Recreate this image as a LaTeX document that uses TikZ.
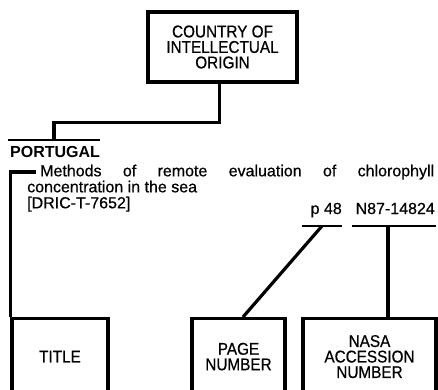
\documentclass[tikz,border=0pt]{standalone}
\usepackage{fontspec}
\setmainfont{Liberation Sans}
\newfontfamily\scanfont[FakeBold=0.6]{Liberation Sans}
\newfontfamily\boxfont[FakeStretch=0.9, FakeBold=0.6]{Liberation Sans}

\tikzset{
	tag/.style={draw, line width=3.2pt, align=center, inner sep=0pt, font=\boxfont\fontsize{17}{15.5}\selectfont},
	slot/.style={tag, anchor=north, minimum height=76pt},
	link/.style={line width=3.2pt},
	rule/.style={line width=2.2pt},
	entry/.style={inner sep=0pt, font=\scanfont\fontsize{16}{16}\selectfont},
}

\begin{document}
\begin{tikzpicture}[x=1pt, y=-1pt]
		%%%%% START %%%%%
		\clip (0,0) rectangle (438,389);
		
		\node[tag, minimum width=149pt, minimum height=70pt] (origin) at (222.5,47) {COUNTRY OF\\INTELLECTUAL\\ORIGIN};
		
		\node[entry, anchor=base west, font=\rmfamily\fontsize{16}{16}\selectfont\bfseries] (country) at (10,157) {PORTUGAL};
		\coordinate (country-l) at (8,140);
		\coordinate (country-r) at (100,140);
		\coordinate (country-hook) at (54,140);
		\draw[rule] (country-l) -- (country-r);
		\draw[link] ([xshift=-3pt]origin.south) -- ++(0,39) -| (country-hook);
		
		\node[entry, anchor=north west, text width=407pt, align=justify] (abstract) at (27,164.5)
			{\tolerance=10000\hbadness=10000\hspace*{13pt}Methods of remote evaluation of chlorophyll\linebreak concentration in the sea\newline{}[DRIC-T-7652]};
		\coordinate (lead) at (36,172);
		
		\node[entry, anchor=base east] (page) at (342,214) {p 48};
		\node[entry, anchor=base east] (accession) at (435,214) {N87-14824};
		\coordinate (page-l) at (302,226);
		\coordinate (page-r) at (342,226);
		\coordinate (page-hook) at (322,226);
		\coordinate (acc-l) at (352,226);
		\coordinate (acc-r) at (436,226);
		\coordinate (acc-hook) at (388,226);
		\draw[rule] (page-l) -- (page-r);
		\draw[rule] (acc-l) -- (acc-r);
		
		\node[slot, minimum width=96pt] (titlebox) at (60,317) {TITLE};
		\node[slot, minimum width=93pt] (pagebox) at (238.5,317) {PAGE\\NUMBER};
		\node[slot, minimum width=133pt] (nasabox) at (369.5,317) {NASA\\ACCESSION\\NUMBER};
		
		\draw[link] (lead) -| (titlebox.north west);
		\draw[link] (page-hook) -- ([xshift=4.5pt]pagebox.north);
		\draw[link] (acc-hook) -- (acc-hook |- nasabox.north);
		%%%%% END %%%%%
	\end{tikzpicture}
\end{document}
